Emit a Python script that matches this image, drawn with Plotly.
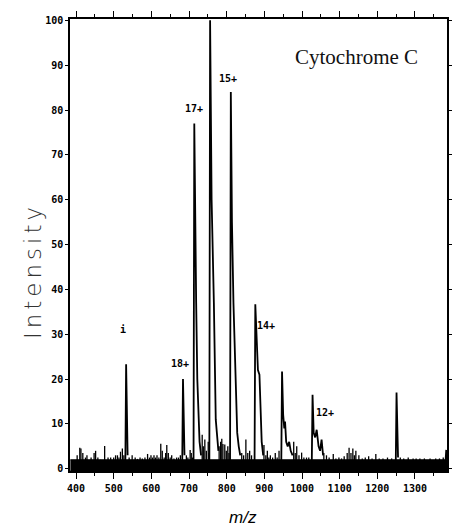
import plotly.graph_objects as go

# ---------------- data ----------------
x_range = [384, 1385]
y_range = [-0.5, 100.3]

x_ticks = [400, 500, 600, 700, 800, 900, 1000, 1100, 1200, 1300]
y_ticks = [0, 10, 20, 30, 40, 50, 60, 70, 80, 90, 100]

# major peak profiles (m/z, intensity): apex followed by the tail
peak_i_mz = [531, 533, 535, 537]
peak_i_int = [1.5, 23.3, 8, 3]
peak_18_mz = [682, 684, 686, 688]
peak_18_int = [1.5, 20, 6, 3]
peak_17_mz = [712, 714, 716, 719, 722, 725, 728, 732]
peak_17_int = [1.5, 77, 55, 37, 20, 10, 6, 3]
peak_16_mz = [754, 756, 760, 766, 769, 771, 774, 778]
peak_16_int = [1.5, 100, 60, 37, 20, 11, 8, 4]
peak_15_mz = [809, 811, 814, 818, 821, 824, 828, 832, 836]
peak_15_int = [1.5, 84, 55, 37, 28, 15, 8, 5, 3]
peak_14_mz = [874, 876, 879, 883, 887, 890, 893, 897]
peak_14_int = [1.5, 36.7, 28, 22, 21, 12, 6, 3]
peak_13_mz = [945, 947, 950, 953, 955, 958, 962, 966, 970, 975]
peak_13_int = [1.5, 21.7, 12, 9, 10.5, 6, 5, 6, 4, 3]
peak_12_mz = [1026, 1028, 1031, 1035, 1039, 1044, 1048, 1052, 1056]
peak_12_int = [1.5, 16.5, 8, 7, 8.7, 5, 4, 6.5, 3]
peak_1251_mz = [1249, 1251, 1253, 1255]
peak_1251_int = [1.5, 17, 5, 2.5]
peak_edge_mz = [1381, 1383, 1384]
peak_edge_int = [1.5, 4.2, 2]

# small noise spikes (m/z, intensity)
noise_mz = [403, 410, 413, 418, 425, 429, 440, 448, 452, 458, 465, 476, 485, 492,
            500, 505, 510, 514, 518, 523, 527, 541, 549, 557, 563, 570, 576, 583,
            590, 595, 599, 603, 607, 611, 615, 620, 625, 629, 634, 638, 641, 645,
            650, 654, 660, 667, 672, 677, 693, 697, 703, 706, 709, 735, 738, 742,
            746, 751, 753, 780, 784, 787, 790, 795, 799, 803, 806, 840, 845, 851,
            856, 861, 866, 899, 904, 908, 912, 916, 922, 929, 934, 939, 978, 982,
            986, 992, 999, 1005, 1012, 1018, 1058, 1065, 1072, 1083, 1090, 1098,
            1105, 1112, 1120, 1125, 1130, 1135, 1139, 1143, 1151, 1160, 1168, 1177,
            1186, 1196, 1205, 1215, 1227, 1238, 1261, 1270, 1282, 1295, 1303, 1313,
            1325, 1340, 1355, 1365, 1375]
noise_int = [3.0, 4.7, 4.5, 3.5, 2.5, 3.0, 2.5, 3.5, 4.0, 2.5, 2.0, 5.1, 2.5, 2.5,
             2.5, 3.0, 3.0, 2.5, 3.8, 4.5, 3.0, 2.5, 3.0, 2.5, 2.2, 2.5, 2.3, 2.5,
             3.3, 2.5, 3.0, 2.5, 3.0, 2.5, 3.0, 2.5, 5.6, 4.0, 2.5, 3.5, 5.3, 3.5,
             2.5, 3.0, 2.3, 2.5, 2.5, 3.0, 3.0, 2.5, 4.2, 3.5, 2.5, 7.6, 5.0, 6.5,
             4.0, 6.0, 3.5, 5.0, 6.0, 6.7, 5.5, 5.4, 4.0, 5.0, 3.5, 3.5, 3.0, 6.5,
             3.5, 4.0, 3.0, 5.3, 3.0, 4.0, 2.5, 3.0, 2.5, 3.5, 2.5, 4.0, 6.0, 3.5,
             5.0, 3.0, 3.6, 2.5, 2.5, 2.5, 3.5, 3.0, 2.5, 3.3, 2.3, 2.5,
             2.3, 2.8, 3.5, 4.7, 3.5, 4.5, 3.0, 4.0, 3.0, 2.3, 2.5, 2.8,
             2.3, 3.3, 2.3, 2.3, 2.5, 2.3, 2.5, 2.3, 2.5, 2.3, 2.3, 2.3,
             2.3, 2.3, 2.3, 2.3, 2.5]

# baseline noise band level
band_mz = [385, 1385]
band_top = [2.0, 2.0]

# peak labels (text, m/z, intensity)
label_text = ["i", "18+", "17+", "15+", "14+", "12+"]
label_mz = [526, 677, 714, 803, 905, 1060]
label_int = [31, 23.5, 80.3, 87, 32, 12.5]

# ---------------- figure ----------------
fig = go.Figure()

# baseline band
fig.add_trace(go.Scatter(
    x=[band_mz[0], band_mz[1], band_mz[1], band_mz[0]],
    y=[y_range[0], y_range[0], band_top[1], band_top[0]],
    fill="toself", fillcolor="black", mode="lines",
    line=dict(color="black", width=1), hoverinfo="skip", showlegend=False))

# noise sticks
sx, sy = [], []
for m, h in zip(noise_mz, noise_int):
    sx += [m, m, None]
    sy += [0, h, None]
fig.add_trace(go.Scatter(x=sx, y=sy, mode="lines",
                         line=dict(color="black", width=1.3),
                         hoverinfo="skip", showlegend=False))

# major peaks
peaks = [
    (peak_i_mz, peak_i_int), (peak_18_mz, peak_18_int), (peak_17_mz, peak_17_int),
    (peak_16_mz, peak_16_int), (peak_15_mz, peak_15_int), (peak_14_mz, peak_14_int),
    (peak_13_mz, peak_13_int), (peak_12_mz, peak_12_int),
    (peak_1251_mz, peak_1251_int), (peak_edge_mz, peak_edge_int),
]
for pm, pi in peaks:
    fig.add_trace(go.Scatter(x=[pm[1]] + pm, y=[0] + pi, mode="lines",
                             line=dict(color="black", width=1.8),
                             hoverinfo="skip", showlegend=False))

tick_font = dict(family="DejaVu Sans Mono", size=10, color="black", weight="bold")

for t, m, h in zip(label_text, label_mz, label_int):
    fig.add_annotation(x=m, y=h, text=t, showarrow=False, font=tick_font,
                       xanchor="center", yanchor="middle")

fig.add_annotation(x=0.76, y=0.915, xref="paper", yref="paper",
                   text="Cytochrome C", showarrow=False,
                   font=dict(family="Liberation Serif", size=21, color="#111"),
                   xanchor="center", yanchor="middle")

# axis titles
fig.add_annotation(x=-0.10, y=0.443, xref="paper", yref="paper",
                   text='<span style="letter-spacing:4px">Intensity</span>',
                   textangle=-90, showarrow=False,
                   font=dict(family="DejaVu Sans", size=23, color="#333", weight=200),
                   xanchor="center", yanchor="middle")
fig.add_annotation(x=0.458, y=-0.102, xref="paper", yref="paper",
                   text="<i>m/z</i>", showarrow=False,
                   font=dict(family="Liberation Sans", size=17, color="black"),
                   xanchor="center", yanchor="middle")

fig.update_layout(
    width=458, height=531,
    margin=dict(l=70, r=6, t=19, b=60),
    paper_bgcolor="white", plot_bgcolor="white",
    xaxis=dict(
        range=x_range, tickvals=x_ticks, ticktext=[str(v) for v in x_ticks],
        showgrid=False, zeroline=False, showline=True, linecolor="black",
        linewidth=1.5, mirror="ticks", ticks="outside", ticklen=6, tickwidth=1.3,
        tickcolor="black", tickfont=tick_font, ticklabelstandoff=1,
        minor=dict(tickvals=[v + 50 for v in x_ticks],
                   ticks="outside", ticklen=3, tickwidth=1, tickcolor="black"),
    ),
    yaxis=dict(
        range=y_range, tickvals=y_ticks, ticktext=[str(v) for v in y_ticks],
        showgrid=False, zeroline=False, showline=True, linecolor="black",
        linewidth=1.5, mirror="ticks", ticks="outside", ticklen=3, tickwidth=1,
        tickcolor="black", tickfont=tick_font,
    ),
)

fig.write_html("out.html")
